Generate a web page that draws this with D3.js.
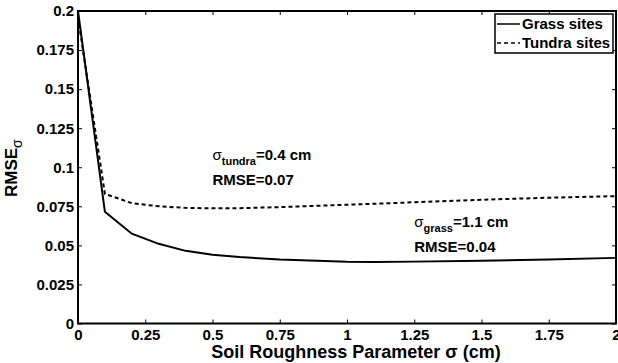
<!DOCTYPE html>
<html>
<head>
<meta charset="utf-8">
<script src="https://cdn.jsdelivr.net/npm/d3@7"></script>
<style>
  body { margin: 0; background: #fff; }
  svg text { font-family: "Liberation Sans", Arial, sans-serif; font-weight: bold; fill: #000; }
</style>
</head>
<body>
<div class="chart"></div>
<script>
const sigma = [0, 0.1, 0.2, 0.3, 0.4, 0.5, 0.6, 0.75, 1, 1.1, 1.25, 1.5, 1.75, 2];
const grassRmse = [0.2, 0.0715, 0.0575, 0.051, 0.0465, 0.044, 0.0425, 0.041, 0.0395, 0.0394, 0.0396, 0.0401, 0.041, 0.042];
const tundraRmse = [0.196, 0.083, 0.077, 0.075, 0.074, 0.0737, 0.0738, 0.0745, 0.076, 0.0766, 0.0776, 0.0792, 0.0805, 0.0815];
const xTicks = [0, 0.25, 0.5, 0.75, 1, 1.25, 1.5, 1.75, 2];
const yTicks = [0, 0.025, 0.05, 0.075, 0.1, 0.125, 0.15, 0.175, 0.2];
const seriesNames = ['Grass sites', 'Tundra sites'];

const margin = { top: 11, right: 2, bottom: 39.5, left: 78 },
  width = 618 - margin.left - margin.right,
  height = 363 - margin.top - margin.bottom;

const x = d3.scaleLinear().domain([0, 2]).range([0, width]);
const y = d3.scaleLinear().domain([0, 0.2]).range([height, 0]);

const svg = d3
  .select('.chart')
  .append('svg')
  .attr('width', 618)
  .attr('height', 363)
  .append('g')
  .attr('transform', 'translate(' + margin.left + ',' + margin.top + ')');

// axes, ticks pointing inward on all four sides
const fmt = (d) => String(d);
svg.append('g')
  .attr('transform', 'translate(0,' + height + ')')
  .call(d3.axisBottom(x).tickValues(xTicks).tickFormat(fmt).tickSizeInner(-4).tickSizeOuter(0).tickPadding(6))
  .call((g) => g.select('.domain').remove());
svg.append('g')
  .call(d3.axisTop(x).tickValues(xTicks).tickFormat('').tickSizeInner(-4).tickSizeOuter(0))
  .call((g) => g.select('.domain').remove());
svg.append('g')
  .call(d3.axisLeft(y).tickValues(yTicks).tickFormat(fmt).tickSizeInner(-4).tickSizeOuter(0).tickPadding(4))
  .call((g) => g.select('.domain').remove());
svg.append('g')
  .attr('transform', 'translate(' + width + ',0)')
  .call(d3.axisRight(y).tickValues(yTicks).tickFormat('').tickSizeInner(-4).tickSizeOuter(0))
  .call((g) => g.select('.domain').remove());

svg.selectAll('.tick line').attr('stroke', '#000').attr('stroke-width', 1);
svg.selectAll('.tick text')
  .attr('font-family', null)
  .style('font-size', '15px');

svg.append('rect')
  .attr('width', width)
  .attr('height', height)
  .attr('fill', 'none')
  .attr('stroke', '#000')
  .attr('stroke-width', 2);

// lines
const line = (vals) =>
  d3.line()
    .x((d, i) => x(sigma[i]))
    .y((d) => y(d))(vals);

svg.append('path')
  .attr('d', line(grassRmse))
  .attr('fill', 'none')
  .attr('stroke', '#000')
  .attr('stroke-width', 2);
svg.append('path')
  .attr('d', line(tundraRmse))
  .attr('fill', 'none')
  .attr('stroke', '#000')
  .attr('stroke-width', 2)
  .attr('stroke-dasharray', '4,3');

// legend
const lg = svg.append('g').attr('transform', 'translate(' + (495 - margin.left) + ',' + (14 - margin.top) + ')');
lg.append('rect')
  .attr('width', 118)
  .attr('height', 39)
  .attr('fill', '#fff')
  .attr('stroke', '#000')
  .attr('stroke-width', 1.5);
seriesNames.forEach((name, i) => {
  const yy = 10 + i * 19;
  lg.append('line')
    .attr('x1', 2).attr('x2', 25)
    .attr('y1', yy).attr('y2', yy)
    .attr('stroke', '#000')
    .attr('stroke-width', 1.5)
    .attr('stroke-dasharray', i === 1 ? '4,3' : null);
  lg.append('text')
    .attr('x', 27)
    .attr('y', yy + 5)
    .style('font-size', '15px')
    .text(name);
});

// annotations
function annotate(px, py, sub, value, rmse) {
  const t = svg.append('text')
    .attr('x', x(px))
    .attr('y', y(py))
    .style('font-size', '15px');
  t.append('tspan').style('font-weight', 'normal').style('font-size', '15px').text('σ');
  t.append('tspan').attr('dy', 5).style('font-size', '11px').text(sub);
  t.append('tspan').attr('dy', -5).text('=' + value + ' cm');
  svg.append('text')
    .attr('x', x(px))
    .attr('y', y(py) + 25)
    .style('font-size', '15px')
    .text('RMSE=' + rmse);
}
annotate(0.5, 0.1049, 'tundra', '0.4', '0.07');
annotate(1.25, 0.0615, 'grass', '1.1', '0.04');

// axis labels
svg.append('text')
  .attr('x', width / 2 + 9)
  .attr('y', height + 34)
  .attr('text-anchor', 'middle')
  .style('font-size', '18px')
  .text('Soil Roughness Parameter σ (cm)');

const yl = svg.append('text')
  .attr('transform', 'translate(' + (-61) + ',' + 186 + ') rotate(-90)')
  .attr('text-anchor', 'start')
  .style('font-size', '17px');
yl.append('tspan').text('RMSE');
yl.append('tspan').attr('dy', 5).style('font-size', '14px').style('font-weight', 'normal').text('σ');
</script>
</body>
</html>
